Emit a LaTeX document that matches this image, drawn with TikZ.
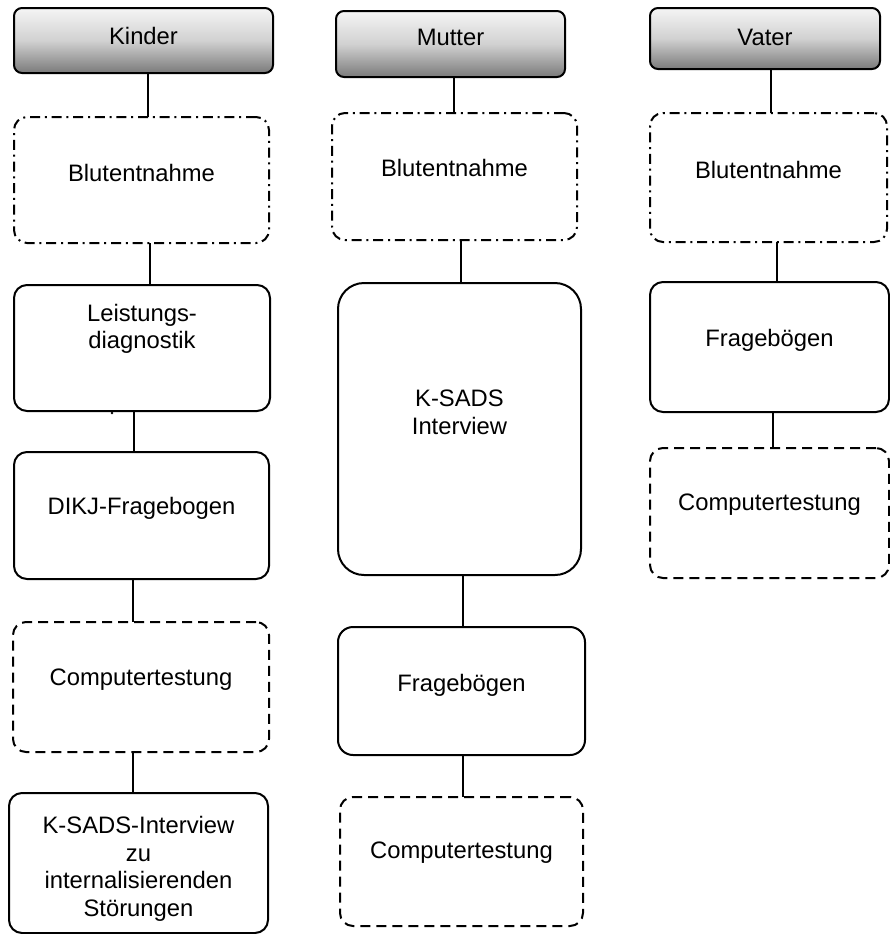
\documentclass[tikz,border=0pt]{standalone}
\usepackage{fontspec}
\setmainfont{Liberation Sans}
\begin{document}
\begin{tikzpicture}[x=0.5pt,y=-0.5pt,
  base/.style={draw, line width=1pt, inner sep=0pt, outer sep=0pt},
  hdr/.style={base, rounded corners=4pt, top color=white!96!black, bottom color=black!52, middle color=black!18},
  solidbox/.style={base, rounded corners=6.5pt},
  dashbox/.style={base, rounded corners=6.5pt, dash pattern=on 5pt off 3pt},
  dotdashbox/.style={base, rounded corners=6.5pt, dash pattern=on 5pt off 2.4pt on 1pt off 2.4pt},
  lbl/.style={font=\fontsize{11.9}{13.75}\selectfont, align=center, inner sep=0pt},
  conn/.style={line width=0.9pt}]
\useasboundingbox (0,0) rectangle (890,934);

% Kinder
\node[hdr, minimum width=129.5pt, minimum height=32.5pt] (kH) at (143.5,40.5) {};
\node[dotdashbox, minimum width=127.5pt, minimum height=63pt] (k1) at (141.5,180) {};
\node[solidbox, minimum width=128pt, minimum height=63pt] (k2) at (142,348) {};
\node[solidbox, minimum width=127.5pt, minimum height=63.5pt] (k3) at (141.5,515.5) {};
\node[dashbox, minimum width=128pt, minimum height=65pt] (k4) at (141,687) {};
\node[solidbox, minimum width=129.5pt, minimum height=70pt] (k5) at (138.5,863) {};

\node[lbl] (tkH) at (143.5,36) {Kinder};
\node[lbl] (tk1) at (141.5,173) {Blutentnahme};
\node[lbl] (tk2) at (142,329) {Leistungs-\\diagnostik};
\node[lbl] (tk3) at (141.5,508) {DIKJ-Fragebogen};
\node[lbl] (tk4) at (141,680) {Computertestung};
\node[lbl] (tk5) at (138.5,869) {K-SADS-Interview\\zu\\internalisierenden\\Störungen};

\draw[conn] (kH.south -| 148,0) -- (k1.north -| 148,0);
\draw[conn] (k1.south -| 150,0) -- (k2.north -| 150,0);
\draw[conn] (k2.south -| 134,0) -- (k3.north -| 134,0);
\draw[conn] (k3.south -| 133,0) -- (k4.north -| 133,0);
\draw[conn] (k4.south -| 133,0) -- (k5.north -| 133,0);
\fill (112,413) circle (1.4);

% Mutter
\node[hdr, minimum width=114.5pt, minimum height=33pt] (mH) at (450.5,44) {};
\node[dotdashbox, minimum width=122.5pt, minimum height=63.5pt] (m1) at (454.5,176.5) {};
\node[solidbox, rounded corners=13pt, minimum width=121.5pt, minimum height=146pt] (m2) at (459.5,429) {};
\node[solidbox, rounded corners=7.5pt, minimum width=123.5pt, minimum height=64pt] (m3) at (461.5,691) {};
\node[dashbox, minimum width=121.5pt, minimum height=64.5pt] (m4) at (461.5,861.5) {};

\node[lbl] (tmH) at (450.5,37) {Mutter};
\node[lbl] (tm1) at (454.5,168) {Blutentnahme};
\node[lbl] (tm2) at (459.5,412.5) {K-SADS\\Interview};
\node[lbl] (tm3) at (461.5,685) {Fragebögen};
\node[lbl] (tm4) at (461.5,853) {Computertestung};

\draw[conn] (mH.south -| 454,0) -- (m1.north -| 454,0);
\draw[conn] (m1.south -| 461,0) -- (m2.north -| 461,0);
\draw[conn] (m2.south -| 463,0) -- (m3.north -| 463,0);
\draw[conn] (m3.south -| 463,0) -- (m4.north -| 463,0);

% Vater
\node[hdr, minimum width=115pt, minimum height=30.5pt] (vH) at (765,38.5) {};
\node[dotdashbox, minimum width=118.5pt, minimum height=64.5pt] (v1) at (768.5,177.5) {};
\node[solidbox, minimum width=119.5pt, minimum height=65pt] (v2) at (769.5,347) {};
\node[dashbox, minimum width=119.5pt, minimum height=65pt] (v3) at (769.5,513) {};

\node[lbl] (tvH) at (765,37) {Vater};
\node[lbl] (tv1) at (768.5,170) {Blutentnahme};
\node[lbl] (tv2) at (769.5,340) {Fragebögen};
\node[lbl] (tv3) at (769.5,505) {Computertestung};

\draw[conn] (vH.south -| 771,0) -- (v1.north -| 771,0);
\draw[conn] (v1.south -| 777,0) -- (v2.north -| 777,0);
\draw[conn] (v2.south -| 773,0) -- (v3.north -| 773,0);
\end{tikzpicture}
\end{document}
